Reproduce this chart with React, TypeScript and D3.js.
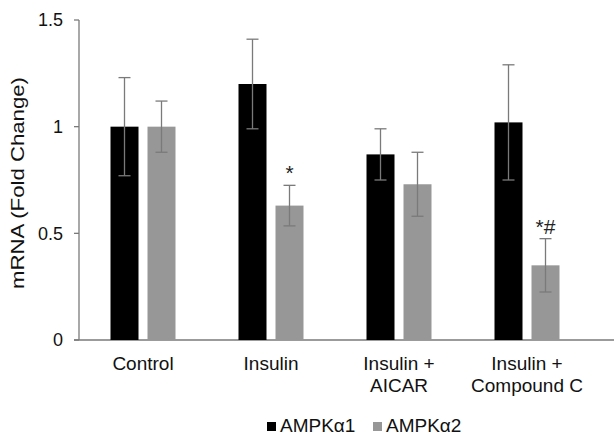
import React from 'react';
import * as d3 from 'd3';

const categories = ['Control', 'Insulin', 'Insulin +\nAICAR', 'Insulin +\nCompound C'];
const seriesNames = ['AMPKα1', 'AMPKα2'];
const alpha1 = [1.0, 1.2, 0.87, 1.02];
const alpha1Err = [0.23, 0.21, 0.12, 0.27];
const alpha2 = [1.0, 0.63, 0.73, 0.35];
const alpha2Err = [0.12, 0.095, 0.15, 0.125];
const alpha2Marks = ['', '*', '', '*#'];
const yTicks = [0, 0.5, 1, 1.5];

const colors = ['#000000', '#979797'];
const font = 'Arial, "Liberation Sans", sans-serif';

const App = () => {
  const width = 614;
  const height = 435;
  const margin = { top: 20, right: 23, bottom: 95, left: 79 };

  const x = d3.scaleBand<string>()
    .domain(categories)
    .range([margin.left, width - margin.right]);

  const y = d3.scaleLinear()
    .domain([0, 1.5])
    .range([height - margin.bottom, margin.top]);

  const barW = 28;
  const gap = 9;
  const series = [
    { vals: alpha1, errs: alpha1Err, marks: ['', '', '', ''] },
    { vals: alpha2, errs: alpha2Err, marks: alpha2Marks },
  ];

  return (
    <svg width={width} height={height} style={{ position: 'absolute', left: 0, top: 0, fontFamily: font }}>
      <rect width={width} height={height} fill="#fff" />

      {/* y axis */}
      <line x1={margin.left} x2={margin.left} y1={y(1.5)} y2={y(0)} stroke="#7a7a7a" strokeWidth={1.3} />
      {yTicks.map(t => (
        <g key={t}>
          <line x1={margin.left - 5} x2={margin.left} y1={y(t)} y2={y(t)} stroke="#7a7a7a" strokeWidth={1.3} />
          <text x={margin.left - 16} y={y(t)} dy="0.35em" textAnchor="end" fontSize={18} fill="#111">{t}</text>
        </g>
      ))}
      <line x1={margin.left - 5} x2={width} y1={y(0)} y2={y(0)} stroke="#7a7a7a" strokeWidth={1.3} />

      <text transform={`translate(18,${183}) rotate(-90)`} dy="0.35em" textAnchor="middle" fontSize={18}
        textLength={212} lengthAdjust="spacingAndGlyphs" fill="#111">
        mRNA (Fold Change)
      </text>

      {/* bars */}
      {categories.map((c, i) => {
        const cx = x(c)! + x.bandwidth() / 2;
        return (
          <g key={c}>
            {series.map((s, k) => {
              const bx = k === 0 ? cx - gap / 2 - barW : cx + gap / 2;
              const mid = bx + barW / 2;
              const v = s.vals[i];
              const e = s.errs[i];
              return (
                <g key={k}>
                  <rect x={bx} y={y(v)} width={barW} height={y(0) - y(v)} fill={colors[k]} />
                  <line x1={mid} x2={mid} y1={y(v + e)} y2={y(v - e)} stroke="#7a7a7a" strokeWidth={1.3} />
                  <line x1={mid - 6} x2={mid + 6} y1={y(v + e)} y2={y(v + e)} stroke="#7a7a7a" strokeWidth={1.3} />
                  <line x1={mid - 6} x2={mid + 6} y1={y(v - e)} y2={y(v - e)} stroke="#7a7a7a" strokeWidth={1.3} />
                  {s.marks[i] && (
                    <text x={mid} y={y(v + e) - 5} textAnchor="middle" fontSize={21} fill="#222">{s.marks[i]}</text>
                  )}
                </g>
              );
            })}
            {c.split('\n').map((line, j) => (
              <text key={j} x={cx} y={y(0) + 30 + j * 22} textAnchor="middle" fontSize={19} fill="#111">{line}</text>
            ))}
          </g>
        );
      })}

      {/* legend */}
      {seriesNames.map((n, k) => {
        const lx = 267 + k * 106;
        return (
          <g key={n}>
            <rect x={lx} y={422} width={9} height={9} fill={colors[k]} />
            <text x={lx + 13} y={432} fontSize={19} fill="#111">{n}</text>
          </g>
        );
      })}
    </svg>
  );
};

export default App;
